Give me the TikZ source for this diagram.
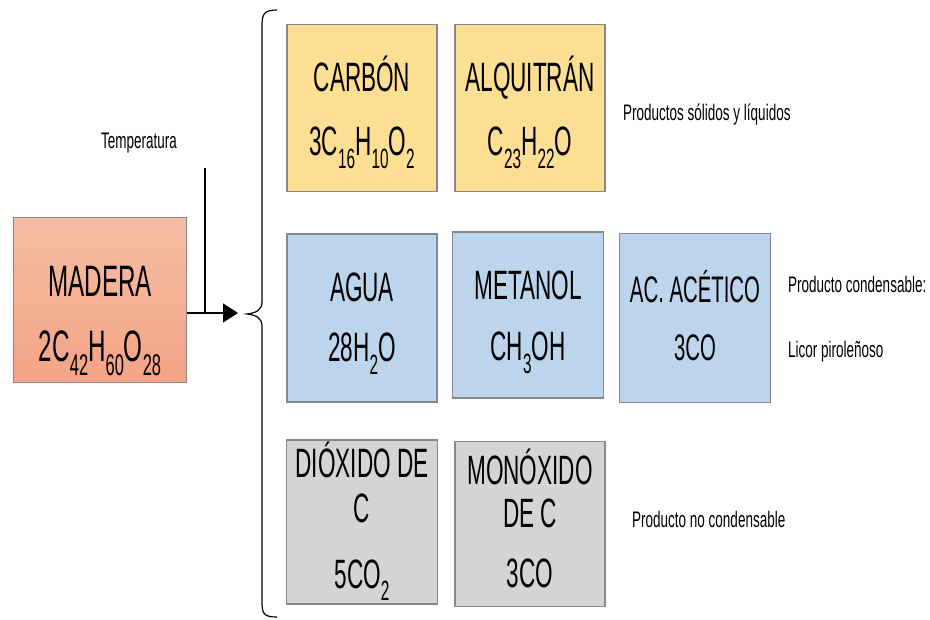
\documentclass[tikz,border=0pt]{standalone}
\usepackage{fontspec}
\setmainfont{Liberation Sans}[FakeStretch=0.6]
\newfontfamily\boxfam{Liberation Sans}[FakeStretch=0.55]
\usetikzlibrary{arrows.meta}
\definecolor{maderaTop}{RGB}{246,190,165}
\definecolor{maderaBot}{RGB}{243,163,133}
\definecolor{solidFill}{RGB}{253,223,148}
\definecolor{liqFill}{RGB}{188,213,236}
\definecolor{gasFill}{RGB}{213,211,213}
\definecolor{boxLine}{RGB}{135,135,135}
\newcommand{\chsub}[1]{\raisebox{-0.3em}{\fontsize{0.68em}{1em}\selectfont #1}}
\newcommand{\bigtxt}{\boxfam\fontsize{41}{46}\selectfont}
\tikzset{
	prodbox/.style={draw=boxLine, line width=1.3pt, minimum width=150pt, minimum height=167pt, inner sep=0pt},
	boxtext/.style={anchor=base, inner sep=0pt, font=\bigtxt},
	sidetext/.style={anchor=base west, inner sep=0pt, font=\fontsize{22.5}{26}\selectfont},
}

\begin{document}
\begin{tikzpicture}[x=1pt, y=-1pt]
		%%%%% START %%%%%
		\useasboundingbox (0,0) rectangle (930,620);
		
		% madera
		\node[prodbox, minimum width=173pt, minimum height=165pt, top color=maderaTop, bottom color=maderaBot] (madera) at (100,300) {};
		\node[boxtext, font=\boxfam\fontsize{44}{48}\selectfont] (maderaName) at (100,297) {MADERA};
		\node[boxtext, font=\boxfam\fontsize{44}{48}\selectfont] (maderaForm) at (100,362) {2C\chsub{42}H\chsub{60}O\chsub{28}};
		
		\node[anchor=base, inner sep=0pt, font=\fontsize{22.5}{26}\selectfont] (temp) at (139,149) {Temperatura};
		\coordinate (tempIn) at (205,168);
		\coordinate (tip) at (238,313);
		\draw[line width=1.5pt, -{Triangle[length=15pt,width=19pt]}] (madera.east |- tip) -- (tip);
		\draw[line width=1.5pt] (tempIn) -- (tempIn |- tip);
		
		% llave
		\draw[line width=1.2pt] (277,10) .. controls (264,10) and (262,14) .. (262,26) -- (262,302)
			.. controls (262,310) and (256,313) .. (247,314) .. controls (256,315) and (262,318) .. (262,326)
			-- (262,602) .. controls (262,614) and (264,617) .. (277,617);
		
		% solidos
		\node[prodbox, fill=solidFill] (carbon) at (362,108) {};
		\node[boxtext] (carbonName) at (362,92) {CARBÓN};
		\node[boxtext] (carbonForm) at (362,156) {3C\chsub{16}H\chsub{10}O\chsub{2}};
		
		\node[prodbox, fill=solidFill] (alquitran) at (530,108) {};
		\node[boxtext] (alquitranName) at (530,92) {ALQUITRÁN};
		\node[boxtext] (alquitranForm) at (530,156) {C\chsub{23}H\chsub{22}O};
		
		\node[sidetext] (solidos) at (623,121) {Productos sólidos y líquidos};
		
		% condensables
		\node[prodbox, fill=liqFill, minimum height=168pt] (agua) at (362,318) {};
		\node[boxtext] (aguaName) at (362,302) {AGUA};
		\node[boxtext] (aguaForm) at (362,362) {28H\chsub{2}O};
		
		\node[prodbox, fill=liqFill, minimum width=151pt, minimum height=166pt] (metanol) at (528,315) {};
		\node[boxtext] (metanolName) at (528,300) {METANOL};
		\node[boxtext] (metanolForm) at (528,361) {CH\chsub{3}OH};
		
		\node[prodbox, fill=liqFill, minimum width=151pt, minimum height=169pt] (acetico) at (695,318) {};
		\node[boxtext, font=\boxfam\fontsize{37}{42}\selectfont] (aceticoName) at (695,303) {AC. ACÉTICO};
		\node[boxtext, font=\boxfam\fontsize{37}{42}\selectfont] (aceticoForm) at (695,361) {3CO};
		
		\node[sidetext] (condensable) at (788,293) {Producto condensable:};
		\node[sidetext] (licor) at (788,358) {Licor piroleñoso};
		
		% no condensables
		\node[prodbox, fill=gasFill, minimum width=151pt, minimum height=164pt] (dioxido) at (362,522) {};
		\node[boxtext] (dioxidoName) at (362,478) {DIÓXIDO DE};
		\node[boxtext] (dioxidoC) at (362,522) {C};
		\node[boxtext] (dioxidoForm) at (362,588) {5CO\chsub{2}};
		
		\node[prodbox, fill=gasFill, minimum height=165pt] (monoxido) at (530,524) {};
		\node[boxtext] (monoxidoName) at (530,485) {MONÓXIDO};
		\node[boxtext] (monoxidoC) at (530,527) {DE C};
		\node[boxtext] (monoxidoForm) at (530,587) {3CO};
		
		\node[sidetext] (noCondensable) at (632,527) {Producto no condensable};
		%%%%% END %%%%%
\end{tikzpicture}
\end{document}
